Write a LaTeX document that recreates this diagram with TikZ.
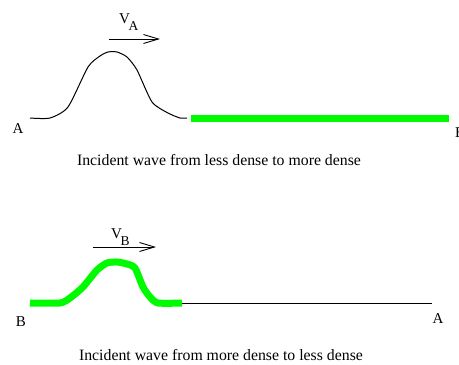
\documentclass[tikz,border=0pt]{standalone}
\usepackage{fontspec}
\setmainfont{Liberation Serif}
\usetikzlibrary{arrows.meta}
\definecolor{brightgreen}{RGB}{0,250,0}
\newcommand{\vsub}[1]{V\kern-1.5pt\raisebox{-7pt}{\fontsize{13.5}{14}\selectfont #1}}
\tikzset{
  lbl/.style={inner sep=0pt, font=\fontsize{15}{17}\selectfont},
  captext/.style={inner sep=0pt, font=\fontsize{15.8}{18}\selectfont},
  thinwave/.style={black, line width=1pt, line join=round},
  thickwave/.style={brightgreen, line width=7pt, line join=round},
  varrow/.style={line width=0.9pt, -{Straight Barb[length=15pt,width=9pt,line width=0.9pt]}},
}
\begin{document}
\begin{tikzpicture}[x=1pt,y=-1pt]
\useasboundingbox (0,0) rectangle (459,365);
% top
\draw[thinwave] plot[smooth, tension=0.4] coordinates {(30,118) (50,118) (68,107) (88,67) (100,56) (108,52) (117,52) (127,57) (137,70) (152,102) (168,113) (180,118) (187,118)};
\coordinate (g1s) at (191,118.5);
\coordinate (g1e) at (449,118.5);
\draw[thickwave] (g1s) -- (g1e);
\node[lbl] (lA1) at (18,129) {A};
\node[lbl, anchor=west] (lB1) at (455,133) {B};
\node[lbl, anchor=base west] (vA) at (119,23) {\vsub{A}};
\coordinate (a1s) at (109,39);
\coordinate (a1e) at (160,39);
\draw[varrow] (a1s) -- (a1e);
\node[captext] (c1) at (219,160) {Incident wave from less dense to more dense};
% bottom
\draw[thickwave] plot[smooth, tension=0.4] coordinates {(30,303) (60,303) (70,298) (83,287) (97,270) (107,263) (117,262) (127,264) (135,268) (143,287) (150,297) (158,303) (182,303)};
\coordinate (b1s) at (182,303);
\coordinate (b1e) at (432,303);
\draw[thinwave] (b1s) -- (b1e);
\node[lbl] (lB2) at (21,322) {B};
\node[lbl] (lA2) at (438,319) {A};
\node[lbl, anchor=base west] (vB) at (111,238) {\vsub{B}};
\coordinate (a2s) at (93,247);
\coordinate (a2e) at (156,247);
\draw[varrow] (a2s) -- (a2e);
\node[captext] (c2) at (221,355) {Incident wave from more dense to less dense};
\end{tikzpicture}
\end{document}
